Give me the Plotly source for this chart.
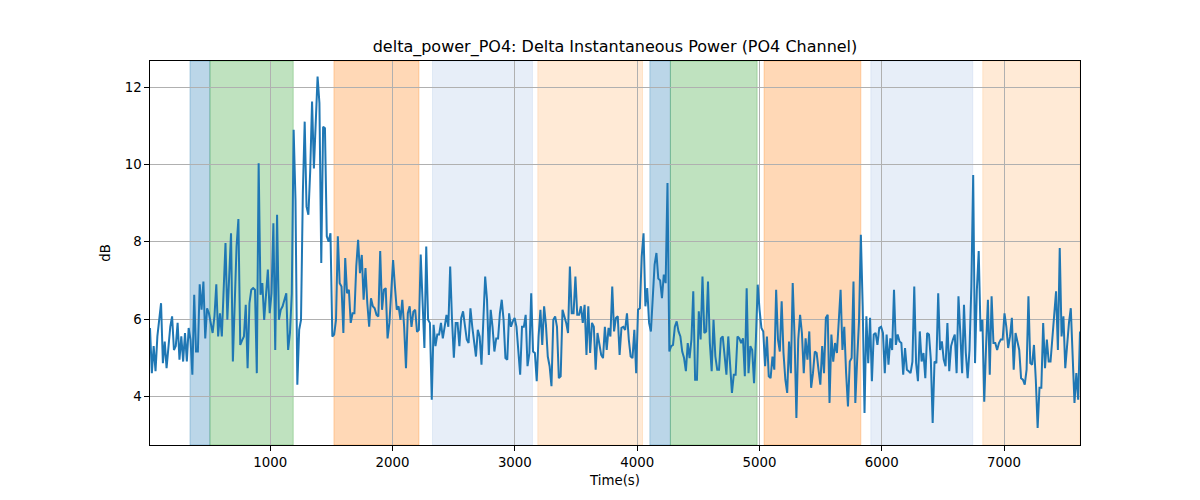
import numpy as np
import plotly.graph_objects as go

# ---- data -------------------------------------------------------------
seg1 = [5.77,4.6,5.3,4.65,5.55,6.07,6.41,4.86,5.42,4.73,
        5.3,5.8,6.07,5.2,5.3,5.9,4.95,5.55,4.9,5.64,
        4.9,5.77,5.47,4.56,6.63,5.16,5.16,6.9,6.24,6.97,
        5.5,6.28,6.15,5.9,5.64,6.07,6.9,5.55,6.15,5.55,
        6.67,7.97,5.98,7.19,8.22,4.9,6.67,7.88,8.59,5.33,5.45,
        5.55,6.37,4.73,6.41,6.76,6.8,6.76,4.6,10.03,6.63,
        6.93,5.98,6.67,7.28,6.15,6.67,8.48,5.2,8.7,5.98,
        6.24,6.33,6.5,6.67,5.2,5.64,6.67,10.9,9.09,4.3,
        5.72,5.98,9.26]
seg2 = [11.11,8.91,8.7,9.84,11.63,9.9,10.98,12.28,11.59,7.45,
        10.98,10.94,8.14,8.0,8.22,5.55,5.6,5.98,8.14,6.93,
        6.84,5.64,7.58,6.67,6.76,5.9,6.15,6.15,7.36,8.05,
        7.19,7.66,6.5,7.32,6.41,5.8,6.54,6.33,6.28,6.11,
        6.07,7.76,6.24,6.76,6.8,5.5,5.9,6.84,7.53,6.84,
        6.24,6.33,5.98,6.5,5.8,4.73,6.15,6.33,5.8,6.19,
        6.24,5.67,5.72,7.67,6.5,5.25,7.88,5.98,5.9,3.91,
        5.85,5.3,5.6,5.6,5.9,5.5,5.8,6.11,5.8,7.36,
        5.98,5.0,5.9,5.9]
seg3 = [5.3,6.03,6.2,5.8,5.47,5.38,6.28,5.8,5.4,5.03,5.72,
        5.55,4.82,6.15,7.1,6.5,5.07,6.24,5.8,5.16,5.5,
        5.5,6.15,6.5,5.98,4.99,4.95,6.15,5.8,5.94,6.03,
        5.8,5.2,4.56,5.8,5.8,6.11,4.78,5.12,6.67,5.16,5.12,
        4.39,5.55,6.24,5.33,6.33,5.85,5.03,4.78,4.26,5.98,6.07,
        5.8,4.47,4.52,6.24,6.07,5.9,5.64,7.36,6.15,6.15,7.1,
        6.11,6.11,6.33,5.9,6.37,5.07,6.33,5.12,5.9,5.8,
        4.69,5.64,5.3,5.07,4.99,5.8,5.2,5.77,5.55,6.84]
seg4 = [5.68,6.03,6.07,5.07,5.77,5.8,5.72,6.15,5.47,5.03,
        4.99,5.72,4.6,6.24,6.28,7.62,8.22,6.33,6.8,5.9,
        5.68,6.67,7.41,7.71,7.05,7.0,6.54,7.15,6.93,9.52,
        5.16,5.3,5.33,5.8,5.94,5.68,5.55,5.16,4.99,4.65,
        5.38,4.99,5.47,6.72,4.43,4.43,6.2,5.47,7.1,5.64,
        5.68,6.97,5.38,4.65,5.98,5.03,4.69,4.69,5.5,5.55,
        5.12,4.56,5.55,4.69,4.09,4.56,4.56,5.55,5.5,5.38,
        5.5,4.52,6.8,4.6,5.3,5.2,4.34,5.47,6.89,6.24,
        5.77,5.68,4.78,5.55,4.52]
seg5 = [4.47,5.03,4.69,6.76,5.47,5.16,6.46,5.12,4.43,4.09,
        5.42,4.6,6.93,5.55,3.44,5.47,6.11,5.64,4.6,5.5,
        4.95,5.68,4.22,4.6,5.16,5.12,4.69,4.3,5.3,4.6,
        6.03,6.11,3.83,5.6,4.9,5.38,5.12,5.9,6.76,5.2,
        5.8,4.6,3.74,4.9,4.99,6.97,3.83,4.95,5.94,8.18,
        6.33,3.57,6.07,4.86,6.03,4.39,5.6,5.64,5.33,5.77,
        5.8,5.64,4.6,5.6,4.82,5.5,5.2,6.76,5.33,5.6,
        5.42,5.38,4.56,5.25,4.69,4.65,4.6,4.9,6.84,4.86,
        4.39,5.68,4.9,5.12]
seg6 = [4.47,5.64,5.6,4.95,3.31,4.9,4.86,6.67,5.2,5.42,
        4.95,4.78,5.9,4.65,5.3,5.47,5.6,4.6,6.59,5.64,
        4.6,6.37,5.12,4.47,5.2,6.84,9.73,4.86,6.76,7.76,
        5.68,5.98,3.86,5.3,6.5,4.56,6.59,5.38,5.38,5.2,
        5.38,5.47,5.47,6.15,5.8,5.25,5.55,6.03,4.69,5.64,
        5.42,5.2,4.47,4.43,4.3,4.69,6.59,4.86,4.82,5.33,
        4.43,3.18,4.22,4.22,5.9,4.73,5.47,4.9,4.9,5.47,
        6.15,6.72,5.2,7.84,5.55,6.07,4.73,5.33,5.9,6.28,
        5.2,3.83,4.6,3.91,5.68]
power_db = seg1 + seg2 + seg3 + seg4 + seg5 + seg6

t_start, t_end = 17, 7621
time_s = np.linspace(t_start, t_end, len(power_db))

span_starts = [344, 507, 1521, 2327, 3188, 4104, 4272, 5038, 5911, 6826]
span_ends   = [507, 1188, 2216, 3144, 4044, 4272, 4981, 5829, 6744, 7621]
span_kinds  = ["C0", "C2", "C1", "C0l", "C1l", "C0", "C2", "C1", "C0l", "C1l"]

x_ticks = [1000, 2000, 3000, 4000, 5000, 6000, 7000]
y_ticks = [4, 6, 8, 10, 12]

# ---- style ------------------------------------------------------------
span_colors = {
    "C0": "rgba(31,119,180,0.3)",
    "C2": "rgba(44,160,44,0.3)",
    "C1": "rgba(255,127,14,0.3)",
    "C0l": "rgba(174,199,232,0.3)",
    "C1l": "rgba(255,187,120,0.3)",
}
FONT = "DejaVu Sans"
W, H = 1192, 492   # page body adds an 8px offset

fig = go.Figure()
fig.add_trace(go.Scatter(x=time_s, y=power_db, mode="lines",
                         line=dict(color="#1f77b4", width=2),
                         showlegend=False, hoverinfo="x+y"))

for s, e, k in zip(span_starts, span_ends, span_kinds):
    c = span_colors[k]
    fig.add_shape(type="rect", xref="x", yref="paper", x0=s, x1=e, y0=0, y1=1,
                  fillcolor=c, line=dict(color=c, width=1), layer="below")

axis_common = dict(showgrid=True, gridcolor="#b0b0b0", gridwidth=0.8,
                   showline=True, linecolor="black", linewidth=1, mirror=True,
                   ticks="outside", ticklen=4.7, tickwidth=1, tickcolor="black",
                   zeroline=False, automargin=False,
                   tickfont=dict(family=FONT, size=13.33, color="black"))

fig.update_xaxes(range=[t_start, t_end], tickvals=x_ticks,
                 ticktext=[str(v) for v in x_ticks],
                 title=dict(text="Time(s)", font=dict(family=FONT, size=13.33, color="black"), standoff=6),
                 **axis_common)
fig.update_yaxes(range=[2.74, 12.68], tickvals=y_ticks,
                 ticktext=[str(v) for v in y_ticks],
                 title=dict(text="dB", font=dict(family=FONT, size=13.33, color="black"), standoff=10),
                 **axis_common)

fig.update_layout(
    width=W, height=H,
    margin=dict(l=142, r=120, t=53, b=55),
    paper_bgcolor="white", plot_bgcolor="white",
    title=dict(text="delta_power_PO4: Delta Instantaneous Power (PO4 Channel)",
               x=0.5, xref="paper", xanchor="center",
               y=1 - 38 / H, yref="container", yanchor="middle",
               font=dict(family=FONT, size=16, color="black")),
    font=dict(family=FONT, color="black"),
)

fig.write_html("out.html")
